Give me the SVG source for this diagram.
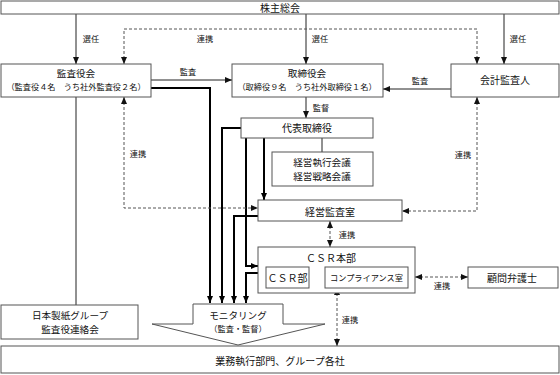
<svg xmlns="http://www.w3.org/2000/svg" width="560" height="375" viewBox="0 0 560 375">
<style>
.box{fill:#fff;stroke:#555;stroke-width:1}
.t{font-family:"Noto Sans CJK JP","Noto Sans CJK SC",sans-serif;font-size:10px;fill:#111;text-anchor:middle}
.m{font-size:9.6px}
.s{font-size:8.2px}
.l{font-family:"Noto Sans CJK JP","Noto Sans CJK SC",sans-serif;font-size:8.2px;fill:#111;text-anchor:middle}
.thin{fill:none;stroke:#222;stroke-width:1}
.thick{fill:none;stroke:#000;stroke-width:2}
.dash{fill:none;stroke:#555;stroke-width:1;stroke-dasharray:3,2}
</style>
<defs>
<marker id="a" markerUnits="userSpaceOnUse" markerWidth="7" markerHeight="6" refX="7" refY="3" orient="auto-start-reverse"><path d="M0,0 L7,3 L0,6 z" fill="#111"/></marker>
<marker id="b" markerUnits="userSpaceOnUse" markerWidth="7" markerHeight="6" refX="7" refY="3" orient="auto-start-reverse"><path d="M0,0 L7,3 L0,6 z" fill="#000"/></marker>
</defs>
<g id="connectors">
<path class="thin" d="M76,14 V64" marker-end="url(#a)"/>
<path class="thin" d="M306,14 V64" marker-end="url(#a)"/>
<path class="thin" d="M504,14 V64" marker-end="url(#a)"/>
<path class="dash" d="M124,64 V29 H477 V64" marker-start="url(#a)" marker-end="url(#a)"/>
<path class="thin" d="M151,80 H232" marker-end="url(#a)"/>
<path class="thin" d="M451,89 H383" marker-end="url(#a)"/>
<path class="thin" d="M306,97 V118" marker-end="url(#a)"/>
<path class="thin" d="M322,138 V152"/>
<path class="thin" d="M76,97 V305"/>
<path class="thin" d="M309,277 H325"/>
<path class="thick" d="M151,88 H210 V303" marker-end="url(#b)"/>
<path class="thick" d="M241,128 H222 V303" marker-end="url(#b)"/>
<path class="thick" d="M258,216 H234 V303" marker-end="url(#b)"/>
<path class="thick" d="M264,138 V200" marker-end="url(#b)"/>
<path class="thick" d="M246,138 V266 H258" marker-end="url(#b)"/>
<path class="thick" d="M258,273 H246 V303" marker-end="url(#b)"/>
<path class="dash" d="M124,97 V208 H258" marker-start="url(#a)" marker-end="url(#a)"/>
<path class="dash" d="M477,97 V211 H402" marker-start="url(#a)" marker-end="url(#a)"/>
<path class="dash" d="M330,221 V247" marker-start="url(#a)" marker-end="url(#a)"/>
<path class="dash" d="M415,277 H468" marker-start="url(#a)" marker-end="url(#a)"/>
<path class="dash" d="M337,288 V346" marker-start="url(#a)" marker-end="url(#a)"/>
<text class="l" x="91" y="42">選任</text>
<text class="l" x="320" y="42">選任</text>
<text class="l" x="518" y="42">選任</text>
<text class="l" x="205" y="42">連携</text>
<text class="l" x="188" y="75">監査</text>
<text class="l" x="420" y="84">監査</text>
<text class="l" x="321" y="111">監督</text>
<text class="l" x="138" y="157">連携</text>
<text class="l" x="463" y="158">連携</text>
<text class="l" x="347" y="238">連携</text>
<text class="l" x="442" y="289">連携</text>
<text class="l" x="350" y="323">連携</text>
</g>
<g id="shareholders"><rect class="box" x="1" y="1" width="558" height="13"/><text class="t" x="280" y="11.5">株主総会</text></g>
<g id="kansayakukai"><rect class="box" x="1" y="64" width="150" height="33"/><text class="t m" x="76" y="76.5">監査役会</text><text class="t s" x="76" y="90">（監査役４名　うち社外監査役２名）</text></g>
<g id="torishimariyakukai"><rect class="box" x="232" y="64" width="151" height="33"/><text class="t m" x="307" y="76.5">取締役会</text><text class="t s" x="307" y="90">（取締役９名　うち社外取締役１名）</text></g>
<g id="kaikeikansanin"><rect class="box" x="451" y="64" width="108" height="33"/><text class="t" x="505" y="83.5">会計監査人</text></g>
<g id="daihyo"><rect class="box" x="241" y="118" width="132" height="20"/><text class="t" x="307" y="131.5">代表取締役</text></g>
<g id="keiei-kaigi"><rect class="box" x="272" y="152" width="101" height="34"/><text class="t m" x="322" y="166">経営執行会議</text><text class="t m" x="322" y="180">経営戦略会議</text></g>
<g id="keiei-kansashitsu"><rect class="box" x="258" y="200" width="144" height="21"/><text class="t" x="330" y="215.5">経営監査室</text></g>
<g id="csr-honbu"><rect class="box" x="258" y="247" width="157" height="46"/><text class="t" x="331" y="261.5">ＣＳＲ本部</text></g>
<g id="csr-bu"><rect class="box" x="266" y="267" width="43" height="21"/><text class="t" x="287.5" y="281.5">ＣＳＲ部</text></g>
<g id="compliance"><rect class="box" x="325" y="267" width="83" height="21"/><text class="t s" x="366.5" y="281">コンプライアンス室</text></g>
<g id="komon"><rect class="box" x="468" y="267" width="90" height="21"/><text class="t" x="512" y="281.5">顧問弁護士</text></g>
<g id="nippon-paper"><rect class="box" x="1" y="305" width="137" height="34"/><text class="t m" x="70" y="319">日本製紙グループ</text><text class="t m" x="70" y="333">監査役連絡会</text></g>
<g id="monitoring"><polygon class="box" points="193,304 283,304 283,324 325,324 238,345 152,324 193,324"/><text class="t m" x="238" y="318.5">モニタリング</text><text class="t s" x="238" y="331.5">（監査・監督）</text></g>
<g id="gyomu"><rect class="box" x="1" y="346" width="558" height="27"/><text class="t" x="280" y="364.5">業務執行部門、グループ各社</text></g>
</svg>
